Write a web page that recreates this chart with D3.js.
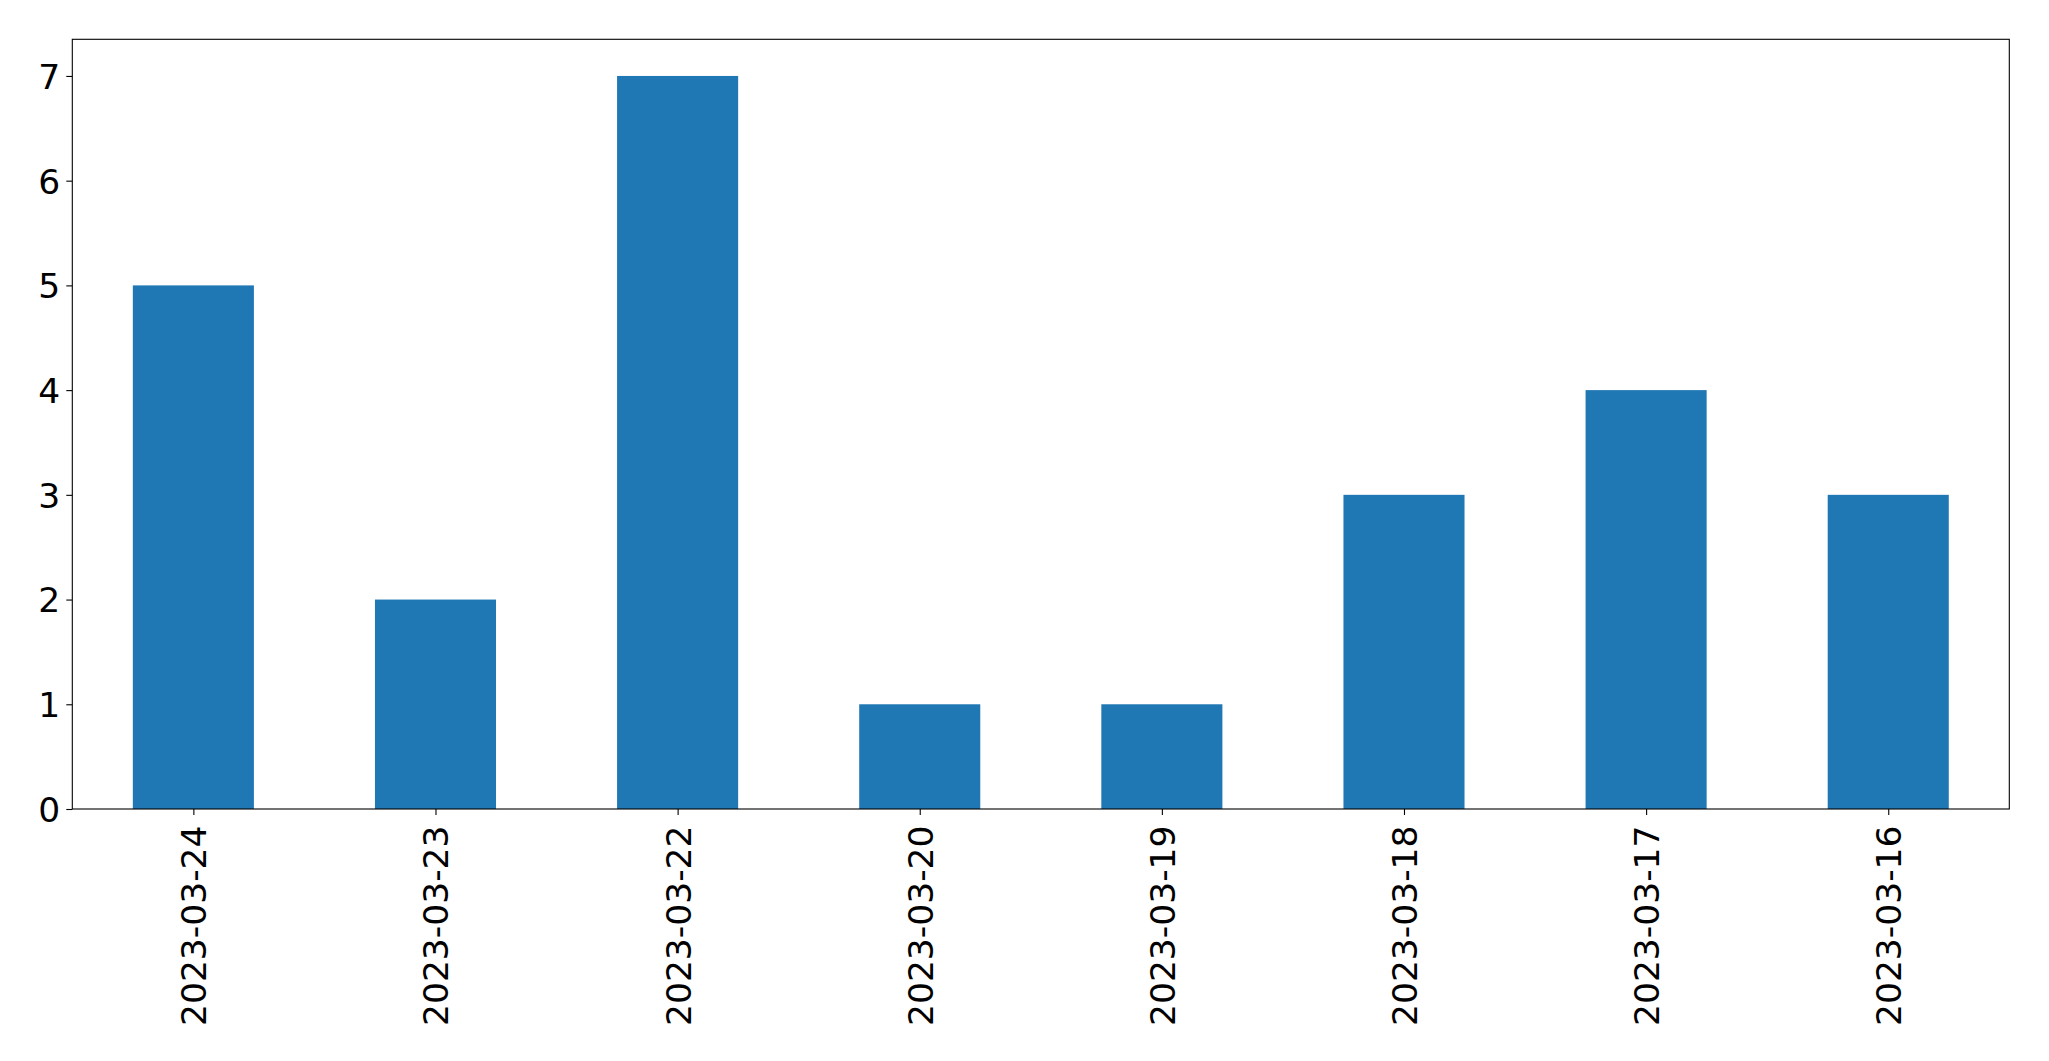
<!DOCTYPE html>
<html>
<head>
<meta charset="utf-8">
<script src="https://cdn.jsdelivr.net/npm/d3@7"></script>
<style>
  html, body { margin: 0; padding: 0; background: #fff; }
  svg { display: block; }
  text { font-family: "DejaVu Sans", sans-serif; fill: #000; }
</style>
</head>
<body>
<script>
const categories = ["2023-03-24", "2023-03-23", "2023-03-22", "2023-03-20", "2023-03-19", "2023-03-18", "2023-03-17", "2023-03-16"];
const values = [5, 2, 7, 1, 1, 3, 4, 3];
const yTicks = [0, 1, 2, 3, 4, 5, 6, 7];

const W = 2049, H = 1061;
const mLeft = 72.3, mRight = 2009.3, mTop = 39.3, mBottom = 809;
const fontSize = 34.5;

const svg = d3.select("body").append("svg").attr("width", W).attr("height", H);

const x = d3.scaleLinear().domain([-0.5, categories.length - 0.5]).range([mLeft, mRight]);
const y = d3.scaleLinear().domain([0, 7.35]).range([mBottom, mTop]);
const barW = 0.5;

svg.append("g").selectAll("rect").data(values).join("rect")
  .attr("x", (d, i) => x(i - barW / 2))
  .attr("width", (d, i) => x(i + barW / 2) - x(i - barW / 2))
  .attr("y", d => y(d))
  .attr("height", d => y(0) - y(d))
  .attr("fill", "#1f77b4");

// y axis
const yAxis = d3.axisLeft(y).tickValues(yTicks).tickFormat(d3.format("d")).tickSize(6).tickPadding(6);
const gy = svg.append("g").attr("transform", `translate(${mLeft},0)`).call(yAxis);
gy.select(".domain").remove();
gy.selectAll(".tick line").attr("stroke", "#000").attr("stroke-width", 1.1);
gy.selectAll(".tick text").attr("font-size", fontSize).attr("font-family", "DejaVu Sans").attr("fill", "#000").attr("dy", "0.36em");

// x axis
const xAxis = d3.axisBottom(x).tickValues(d3.range(categories.length)).tickFormat(i => categories[i]).tickSize(6).tickPadding(0);
const gx = svg.append("g").attr("transform", `translate(0,${mBottom})`).call(xAxis);
gx.select(".domain").remove();
gx.selectAll(".tick line").attr("stroke", "#000").attr("stroke-width", 1.1);
gx.selectAll(".tick text")
  .attr("font-size", fontSize).attr("font-family", "DejaVu Sans").attr("fill", "#000")
  .attr("text-anchor", "end")
  .attr("transform", "translate(0,16.5) rotate(-90)")
  .attr("x", 0).attr("y", 0).attr("dy", "0.36em");

// frame
svg.append("rect")
  .attr("x", mLeft).attr("y", mTop)
  .attr("width", mRight - mLeft).attr("height", mBottom - mTop)
  .attr("fill", "none").attr("stroke", "#000").attr("stroke-width", 1.1);
</script>
</body>
</html>
